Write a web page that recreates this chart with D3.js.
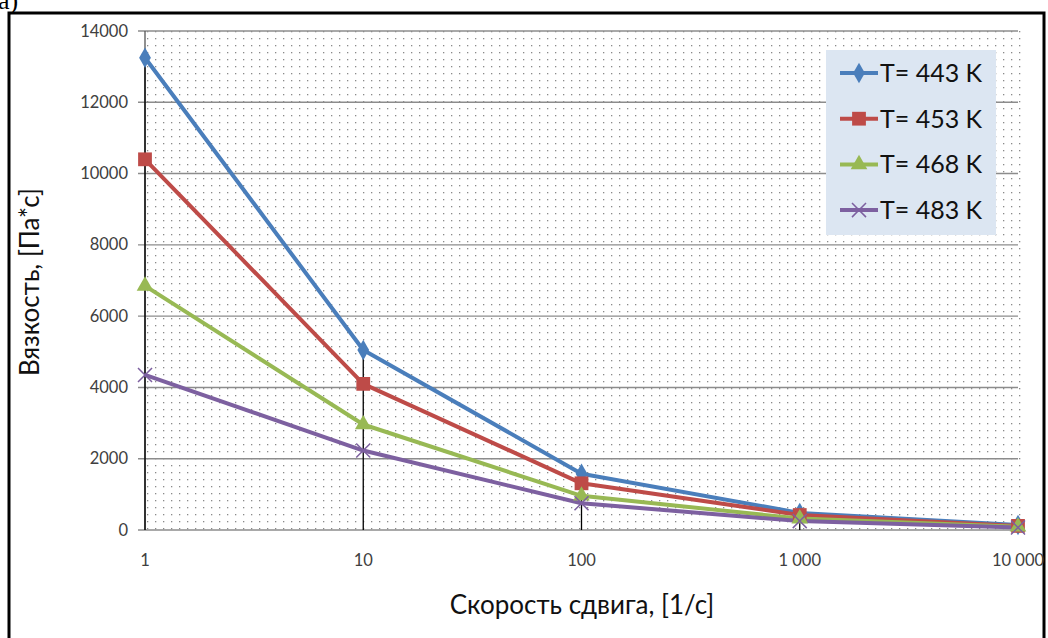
<!DOCTYPE html>
<html><head><meta charset="utf-8">
<script src="https://cdn.jsdelivr.net/npm/d3@7"></script>
<style>body{margin:0;background:#fff}svg{display:block}</style>
</head><body>
<svg id="c" width="1048" height="638"></svg>
<script>
const shearRates = [1, 10, 100, 1000, 10000];
const xTickLabels = ["1", "10", "100", "1 000", "10 000"];
const yTicks = [0, 2000, 4000, 6000, 8000, 10000, 12000, 14000];
const seriesNames = ["T= 443 K", "T= 453 K", "T= 468 K", "T= 483 K"];
const v443 = [13250, 5050, 1580, 480, 140];
const v453 = [10400, 4100, 1310, 420, 115];
const v468 = [6850, 2960, 960, 320, 90];
const v483 = [4350, 2230, 750, 250, 70];
const seriesValues = [v443, v453, v468, v483];
const colors = ["#4a7ebb", "#be4b48", "#98b954", "#7d60a0"];
const symbols = [d3.symbolDiamond, d3.symbolSquare, d3.symbolTriangle, d3.symbolX];

const svg = d3.select("#c");
const font = "Lato, 'Open Sans', sans-serif";

const defs = svg.append("defs");
const pat = defs.append("pattern").attr("id","dots").attr("patternUnits","userSpaceOnUse")
  .attr("width",8).attr("height",7);
pat.append("rect").attr("x",3).attr("y",3).attr("width",1.3).attr("height",1.3).attr("fill","#8a8a8a");

// outer frame
svg.append("rect").attr("x",9).attr("y",13).attr("width",1035).attr("height",640)
  .attr("fill","none").attr("stroke","#000").attr("stroke-width",3);
svg.append("text").attr("x",-2).attr("y",9).attr("font-family","'Liberation Serif', serif")
  .attr("font-size",26).text("а)");

const x = d3.scaleLog().domain([1,10000]).range([145,1018]);
const y = d3.scaleLinear().domain([0,14000]).range([530,31]);

svg.append("rect").attr("x",145).attr("y",31).attr("width",876).attr("height",499).attr("fill","url(#dots)");

svg.append("g").selectAll("line").data(yTicks).join("line")
  .attr("x1",138).attr("x2",1018).attr("y1",d=>y(d)).attr("y2",d=>y(d))
  .attr("stroke","#8c8c8c").attr("stroke-width",1.4);

svg.append("line").attr("x1",145).attr("x2",145).attr("y1",31).attr("y2",530)
  .attr("stroke","#555").attr("stroke-width",1.3);

svg.append("g").selectAll("text").data(yTicks).join("text")
  .attr("x",128).attr("y",d=>y(d)+5.5).attr("text-anchor","end")
  .attr("font-family",font).attr("font-size",16.5).attr("fill","#404040").text(d=>d);

svg.append("g").selectAll("text").data(shearRates).join("text")
  .attr("x",d=>x(d)).attr("y",566).attr("text-anchor","middle")
  .attr("font-family",font).attr("font-size",16.5).attr("fill","#404040")
  .text((d,i)=>xTickLabels[i]);

svg.append("g").selectAll("line").data(shearRates).join("line")
  .attr("x1",d=>x(d)).attr("x2",d=>x(d))
  .attr("y1",(d,i)=>y(d3.max(seriesValues,s=>s[i]))).attr("y2",530)
  .attr("stroke","#000").attr("stroke-width",1.3);

const line = d3.line().x((d,i)=>x(shearRates[i])).y(d=>y(d));
seriesValues.forEach((vals,k)=>{
  svg.append("path").datum(vals).attr("d",line).attr("fill","none")
    .attr("stroke",colors[k]).attr("stroke-width",4).attr("stroke-linejoin","round");
});
seriesValues.forEach((vals,k)=>{
  const sym = d3.symbol().type(symbols[k]).size(k===1?190:k===3?130:120);
  svg.append("g").selectAll("path").data(vals).join("path")
    .attr("transform",(d,i)=>`translate(${x(shearRates[i])},${y(d)})`)
    .attr("d",sym).attr("fill",k===3?"none":colors[k])
    .attr("stroke",colors[k]).attr("stroke-width",k===3?1.5:0);
});

const lg = svg.append("g");
lg.append("rect").attr("x",826).attr("y",50).attr("width",170).attr("height",185).attr("fill","#dce6f2");
seriesNames.forEach((n,k)=>{
  const cy = 73 + k*45.7;
  lg.append("line").attr("x1",840).attr("x2",878).attr("y1",cy).attr("y2",cy)
    .attr("stroke",colors[k]).attr("stroke-width",4);
  const sym = d3.symbol().type(symbols[k]).size(k===1?190:k===3?130:120);
  lg.append("path").attr("transform",`translate(859,${cy})`).attr("d",sym)
    .attr("fill",k===3?"none":colors[k]).attr("stroke",colors[k]).attr("stroke-width",k===3?1.5:0);
  lg.append("text").attr("x",880).attr("y",cy+9).attr("font-family",font)
    .attr("font-size",25).attr("fill","#111").text(n);
});

svg.append("text").attr("x",582).attr("y",614).attr("text-anchor","middle")
  .attr("font-family",font).attr("font-size",26).attr("fill","#111").text("Скорость сдвига, [1/с]");
svg.append("text").attr("transform","translate(39,282) rotate(-90)").attr("text-anchor","middle")
  .attr("font-family",font).attr("font-size",26).attr("fill","#111").text("Вязкость, [Па*с]");
</script>
</body></html>
